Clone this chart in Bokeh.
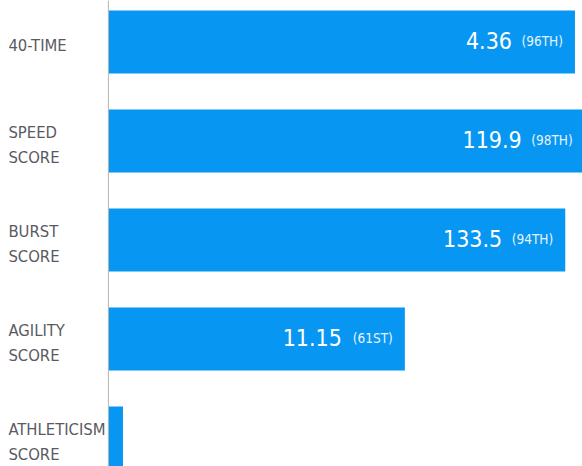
from bokeh.plotting import figure
from bokeh.models import ColumnDataSource, Range1d, Span
from bokeh.core.properties import value
from bokeh.embed import file_html
from bokeh.resources import INLINE

categories = ["40-TIME", "SPEED\nSCORE", "BURST\nSCORE", "AGILITY\nSCORE", "ATHLETICISM\nSCORE"]
percentiles = [96, 98, 94, 61, 3]
values = ["4.36", "119.9", "133.5", "11.15", ""]
rank_labels = ["(96TH)", "(98TH)", "(94TH)", "(61ST)", ""]

BLUE = "#0797F2"
FONT = "DejaVu Sans Condensed"

ys = list(range(len(categories)))
src = ColumnDataSource(dict(y=ys, cat=categories, pct=percentiles, zero=[0] * len(ys)))
txt = ColumnDataSource(dict(y=ys[:4], pct=percentiles[:4], val=values[:4], rank=rank_labels[:4]))

p = figure(width=582, height=466, output_backend="svg", toolbar_location=None,
           x_range=Range1d(-22.2, 97.55), y_range=Range1d(4.288, -0.419),
           min_border=0, outline_line_color=None)
p.axis.visible = False
p.grid.visible = False

p.hbar(y="y", left="zero", right="pct", height=0.636, source=src, color=BLUE, line_color=None)
p.add_layout(Span(location=0, dimension="height", line_color="#b5b5b5", line_width=1))

p.text(x="zero", y="y", text="cat", source=src, x_offset=-100, y_offset=4,
       text_align="left", text_baseline="middle", text_font=value(FONT),
       text_font_size="16.5px", text_color="#5a5a62", text_line_height=1.3)

p.text(x="pct", y="y", text="val", source=txt, x_offset=-63, y_offset=-1,
       text_align="right", text_baseline="alphabetic", text_font=value(FONT),
       text_font_size="23px", text_color="white")
p.text(x="pct", y="y", text="rank", source=txt, x_offset=-12, y_offset=-1,
       text_align="right", text_baseline="alphabetic", text_font=value(FONT),
       text_font_size="13.5px", text_color="#e6f3fd")

open("out.html", "w").write(file_html(p, INLINE))
